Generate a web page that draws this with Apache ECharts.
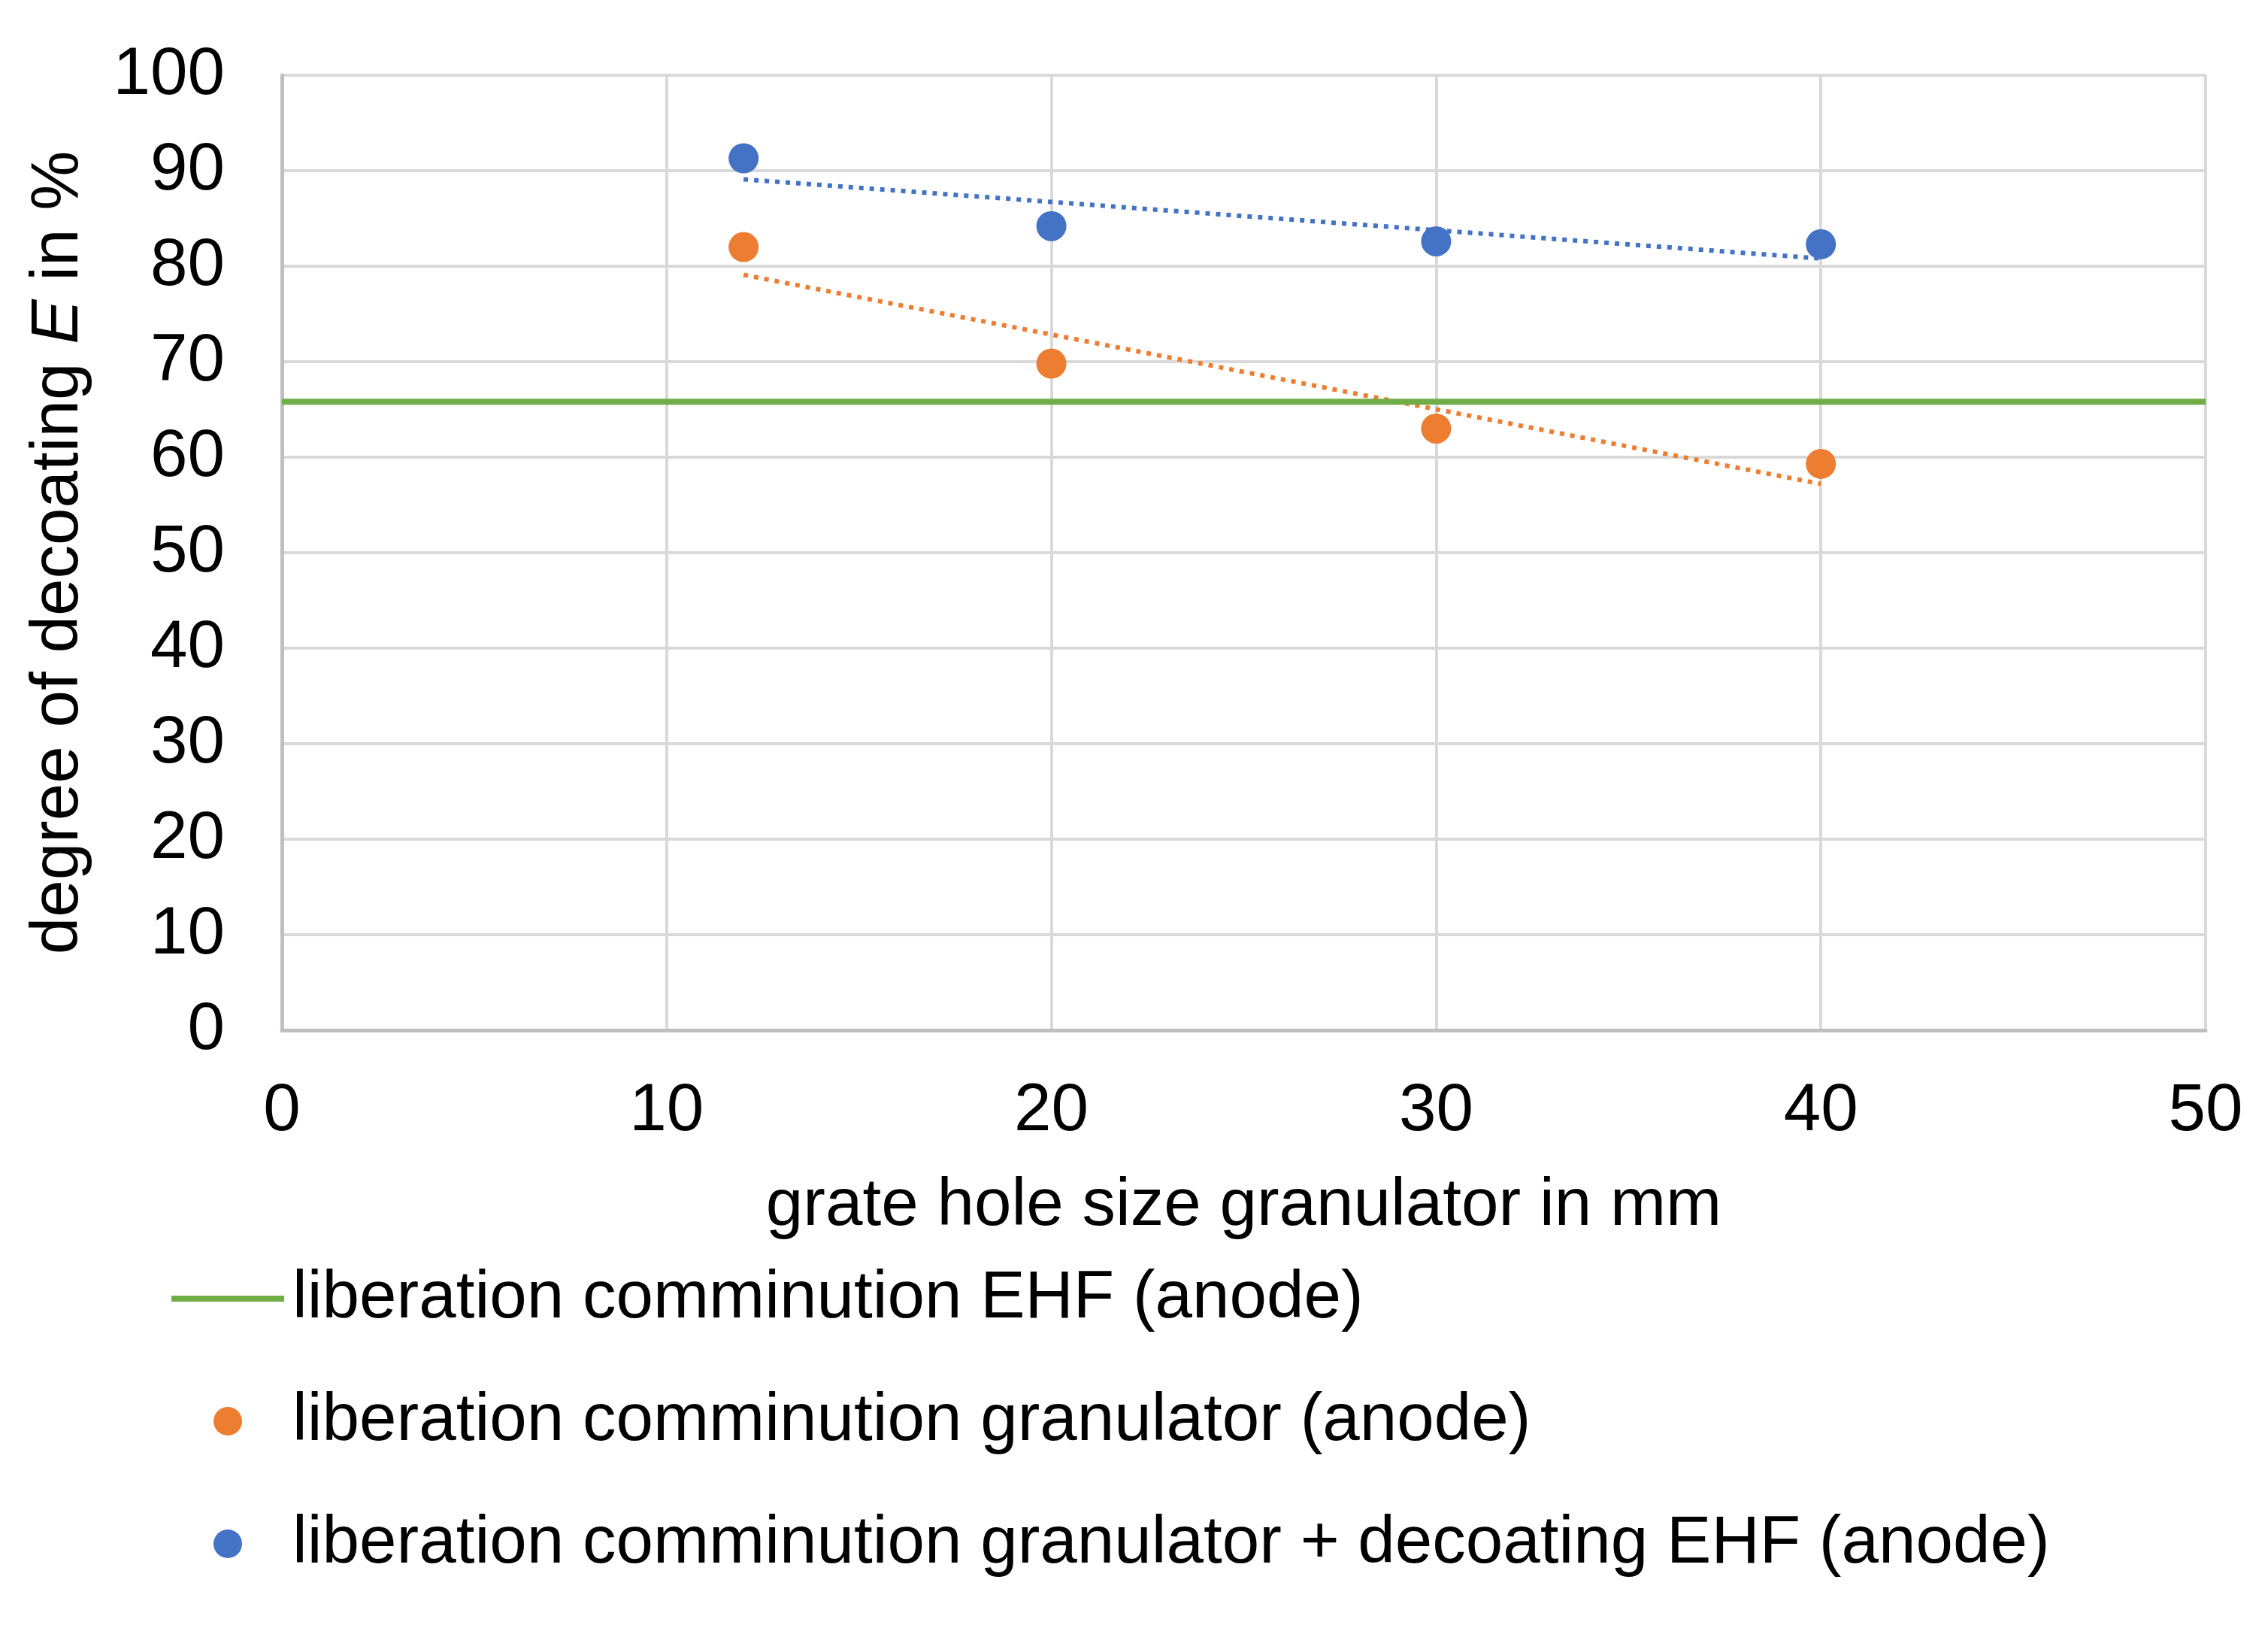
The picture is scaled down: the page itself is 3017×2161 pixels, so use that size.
<!DOCTYPE html>
<html>
<head>
<meta charset="utf-8">
<script src="https://cdn.jsdelivr.net/npm/echarts@6/dist/echarts.min.js"></script>
<style>html,body{margin:0;padding:0;background:#fff}#c{width:3017px;height:2161px}</style>
</head>
<body>
<div id="c"></div>
<script>
var holeSize = [12, 20, 30, 40];
var granulator = [82.0, 69.8, 63.0, 59.3];
var granulatorEHF = [91.3, 84.2, 82.6, 82.3];
var ehfLevelX = [0, 50];
var ehfLevelY = [65.8, 65.8];
var trendX = [12, 40];
var trendGranulator = [79.1, 57.2];
var trendGranulatorEHF = [89.1, 80.8];
var xTicks = [0, 10, 20, 30, 40, 50];
var yTicks = [0, 10, 20, 30, 40, 50, 60, 70, 80, 90, 100];

var names = ['liberation comminution EHF (anode)', 'liberation comminution granulator (anode)', 'liberation comminution granulator + decoating EHF (anode)'];
function pairs(xs, ys) { return xs.map(function (x, i) { return [x, ys[i]]; }); }

var font = 'Liberation Sans, Arial, sans-serif';
var fs = 89;
var chart = echarts.init(document.getElementById('c'));
chart.setOption({
  backgroundColor: '#ffffff',
  animation: false,
  textStyle: { fontFamily: font },
  grid: { left: 375, right: 83, top: 100, bottom: 791 },
  xAxis: {
    type: 'value', min: xTicks[0], max: xTicks[xTicks.length - 1], interval: 10,
    name: 'grate hole size granulator in mm', nameLocation: 'middle', nameGap: 190,
    nameTextStyle: { fontSize: fs, color: '#000', fontFamily: font },
    axisLine: { show: true, lineStyle: { color: '#BFBFBF', width: 5 } },
    axisTick: { show: false },
    axisLabel: { fontSize: fs, color: '#000', margin: 64, fontFamily: font },
    splitLine: { show: true, lineStyle: { color: '#D9D9D9', width: 4 } }
  },
  yAxis: {
    type: 'value', min: yTicks[0], max: yTicks[yTicks.length - 1], interval: 10,
    name: '{a|degree of decoating }{i|E}{a| in %}', nameLocation: 'middle', nameGap: 252, nameRotate: 90,
    nameTextStyle: {
      rich: {
        a: { fontSize: fs, color: '#000', fontFamily: font },
        i: { fontSize: fs, color: '#000', fontFamily: font, fontStyle: 'italic' }
      }
    },
    axisLine: { show: true, lineStyle: { color: '#BFBFBF', width: 5 } },
    axisTick: { show: false },
    axisLabel: { fontSize: fs, color: '#000', margin: 76, fontFamily: font },
    splitLine: { show: true, lineStyle: { color: '#D9D9D9', width: 4 } }
  },
  legend: {
    orient: 'vertical', left: 223, top: 1674,
    symbolKeepAspect: true,
    data: [
      { name: names[0], icon: 'path://M0,0H150V8H0Z', itemStyle: { color: '#70AD47' } },
      { name: names[1], icon: 'circle' },
      { name: names[2], icon: 'circle' }
    ],
    itemWidth: 150, itemHeight: 38, itemGap: 67,
    textStyle: { fontSize: fs, color: '#000', fontFamily: font, lineHeight: 96, padding: [0, 0, 0, 6] },
    selectedMode: false
  },
  series: [
    {
      name: names[0], type: 'line', data: pairs(ehfLevelX, ehfLevelY), showSymbol: false, symbol: 'none',
      lineStyle: { color: '#70AD47', width: 8 }, itemStyle: { color: '#70AD47' }, z: 3
    },
    {
      name: 'trend1', type: 'line', data: pairs(trendX, trendGranulator), symbol: 'none',
      lineStyle: { color: '#ED7D31', width: 6, type: [6, 8] }, z: 2
    },
    {
      name: 'trend2', type: 'line', data: pairs(trendX, trendGranulatorEHF), symbol: 'none',
      lineStyle: { color: '#4472C4', width: 6, type: [6, 8] }, z: 2
    },
    {
      name: names[1], type: 'scatter', data: pairs(holeSize, granulator), symbolSize: 40,
      itemStyle: { color: '#ED7D31', opacity: 1 }, z: 4
    },
    {
      name: names[2], type: 'scatter', data: pairs(holeSize, granulatorEHF), symbolSize: 40,
      itemStyle: { color: '#4472C4', opacity: 1 }, z: 4
    }
  ]
});
</script>
</body>
</html>
